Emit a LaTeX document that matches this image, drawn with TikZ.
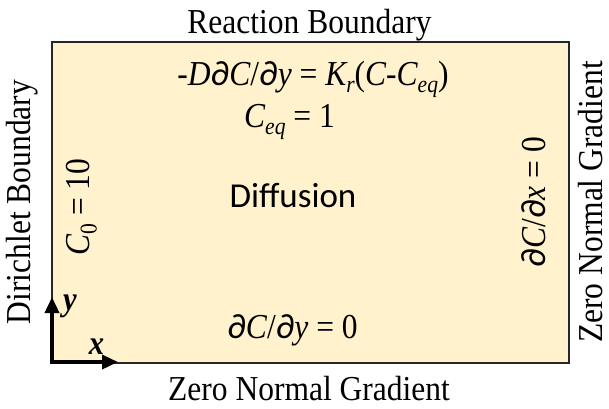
\documentclass[tikz,border=0pt]{standalone}
\usepackage{fontspec}
\setmainfont{Liberation Serif}[FakeStretch=0.9]
\newfontfamily\diffont{Carlito}
\newfontfamily\pdfont{Carlito}
\usetikzlibrary{arrows.meta}
\newcommand\mysub[1]{\raisebox{-0.22em}{\fontsize{24}{24}\selectfont\itshape #1}}
\newcommand\mysubup[1]{\raisebox{-0.22em}{\fontsize{24}{24}\selectfont\upshape #1}}
\newcommand\pd{{\pdfont\upshape ∂}}
\definecolor{boxfill}{HTML}{FFF2CC}
\definecolor{boxline}{HTML}{262626}
\begin{document}
\begin{tikzpicture}[x=1pt,y=-1pt,
  lbl/.style={font=\fontsize{35}{40}\selectfont, inner sep=0pt, anchor=base},
  vlbl/.style={lbl, rotate=90},
  domainbox/.style={draw=boxline, fill=boxfill, line width=1.6pt, inner sep=0pt, anchor=north west},
  axisline/.style={line width=3.5pt, line join=miter, {Triangle[length=16pt,width=14pt]}-{Triangle[length=16pt,width=14pt]}},
  axlbl/.style={lbl, font=\fontsize{34}{40}\selectfont\bfseries\itshape}]
\useasboundingbox (0,0) rectangle (609,408);
\node[domainbox, minimum width=517pt, minimum height=321pt] (box) at (51,41) {};
\node[lbl] (top) at (309.5,33) {Reaction Boundary};
\node[lbl] (bottom) at (309,400) {Zero Normal Gradient};
\node[vlbl] (left) at (30,202) {Dirichlet Boundary};
\node[vlbl] (right) at (602,202) {Zero Normal Gradient};
\node[lbl] (eqa) at (313,85) {{\itshape -D}\pd{\itshape C}/\pd{\itshape y} = {\itshape K}\mysub{r}({\itshape C}-{\itshape C}\mysub{eq})};
\node[lbl] (eqb) at (289.5,127) {{\itshape C}\mysub{eq} = 1};
\node[lbl, font=\diffont\fontsize{35}{40}\selectfont] (diff) at (293,207) {Diffusion};
\node[lbl] (eqc) at (292.5,338) {\pd{\itshape C}/\pd{\itshape y} = 0};
\node[vlbl] (eqd) at (89,207) {{\itshape C}\mysubup{0} = 10};
\node[vlbl] (eqe) at (545,202) {\pd{\itshape C}/\pd{\itshape x} = 0};
\coordinate (O) at (52,362);
\coordinate (ytip) at (52,297);
\coordinate (xtip) at (118,362);
\draw[axisline] (ytip) -- (O) -- (xtip);
\node[axlbl] (ylab) at (70,310) {y};
\node[axlbl] (xlab) at (96.5,354) {x};
\end{tikzpicture}
\end{document}
